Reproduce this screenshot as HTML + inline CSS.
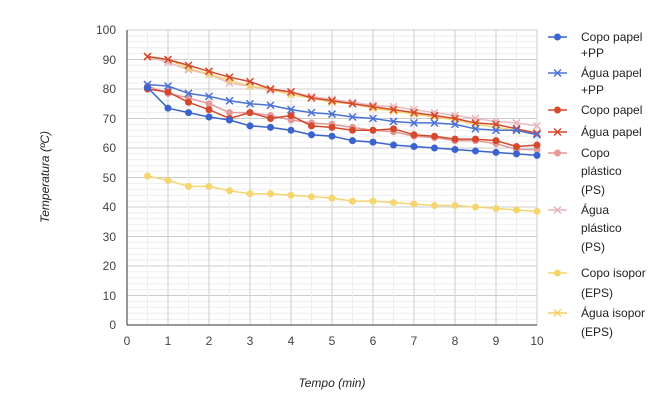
<!DOCTYPE html>
<html><head><meta charset="utf-8"><style>
body{margin:0;background:#fff;width:663px;height:400px;overflow:hidden;font-family:"Liberation Sans",Arial,sans-serif}
svg text{font-family:"Liberation Sans",Arial,sans-serif}
</style></head><body>
<svg id="s" width="663" height="400" xmlns="http://www.w3.org/2000/svg">
<rect width="663" height="400" fill="#fff"/>
<g id="grid"></g>
<g font-size="12" fill="#444" text-anchor="end">
<text x="116" y="34">100</text><text x="116" y="64">90</text><text x="116" y="93">80</text><text x="116" y="123">70</text><text x="116" y="152">60</text><text x="116" y="182">50</text><text x="116" y="211">40</text><text x="116" y="241">30</text><text x="116" y="270">20</text><text x="116" y="300">10</text><text x="116" y="329">0</text>
</g>
<g font-size="12" fill="#444" text-anchor="middle">
<text x="127" y="345">0</text><text x="168" y="345">1</text><text x="209" y="345">2</text><text x="250" y="345">3</text><text x="291" y="345">4</text><text x="332" y="345">5</text><text x="373" y="345">6</text><text x="414" y="345">7</text><text x="455" y="345">8</text><text x="496" y="345">9</text><text x="537" y="345">10</text>
</g>
<text x="332" y="387" font-size="12" font-style="italic" fill="#222" text-anchor="middle">Tempo (min)</text>
<text transform="translate(49,177) rotate(-90)" font-size="12" font-style="italic" fill="#222" text-anchor="middle">Temperatura (ºC)</text>
<g id="series"></g>
<g id="legend" font-size="12" fill="#222">
<text x="581" y="41">Copo papel</text><text x="581" y="57">+PP</text>
<text x="581" y="77">Água papel</text><text x="581" y="94">+PP</text>
<text x="581" y="114">Copo papel</text>
<text x="581" y="136">Água papel</text>
<text x="581" y="157">Copo</text><text x="581" y="175">plástico</text><text x="581" y="194">(PS)</text>
<text x="581" y="214">Água</text><text x="581" y="232">plástico</text><text x="581" y="251">(PS)</text>
<text x="581" y="277">Copo isopor</text><text x="581" y="297">(EPS)</text>
<text x="581" y="317">Água isopor</text><text x="581" y="336">(EPS)</text>
</g>
</svg>
<script>
var NS="http://www.w3.org/2000/svg";
function el(p,t,a){var e=document.createElementNS(NS,t);for(var k in a)e.setAttribute(k,a[k]);p.appendChild(e);return e;}
var X=function(v){return 127+v*41}, Y=function(v){return 325-v*2.95};
var g=document.getElementById('grid');
for(var v=0;v<=100;v+=2){el(g,'line',{x1:127,x2:537,y1:Y(v),y2:Y(v),stroke:v%10?'#eee':'#ccc','stroke-width':1});}
for(var x=0.5;x<=10;x+=0.5){el(g,'line',{x1:X(x),x2:X(x),y1:30,y2:325,stroke:x%1?'#eee':'#ccc','stroke-width':1});}
el(g,'line',{x1:127,x2:127,y1:30,y2:325,stroke:'#333','stroke-width':1});
el(g,'line',{x1:127,x2:537,y1:325,y2:325,stroke:'#333','stroke-width':1});
var S=[
['#e8b4bc','x',[91,89,86.5,85,82,81,79.5,79,77.5,76.5,75.5,74.5,74,73,72,71,70,69,68.5,67.5],0.9],
['#f3cf6a','x',[91,90,87,85,83,81,80,78,77,75.5,75,73.5,72.5,71.5,70.5,69.5,68,67,66,64.5],0.9],
['#d5482c','x',[91,90,88,86,84,82.5,80,79,77,76,75,74,73,72,71,70,68.5,68,66.5,65],1],
['#e39a98','o',[81,78.5,77,75,72,72,71,69.5,68.5,68,67,66,65.5,64,63.5,62.5,62.5,61.5,59.5,59.5],1],
['#d5482c','o',[80,79,75.5,73,70,72,70,71,67.5,67,66,66,66.5,64.5,64,63,63,62.5,60.5,61],1],
['#4a72d6','x',[81.5,81,78.5,77.5,76,75,74.5,73,72,71.5,70.5,70,69,68.5,68.5,68,66.5,66,66,64.5],1],
['#3a63d0','o',[80.5,73.5,72,70.5,69.5,67.5,67,66,64.5,64,62.5,62,61,60.5,60,59.5,59,58.5,58,57.5],1],
['#f5d56e','o',[50.5,49,47,47,45.5,44.5,44.5,44,43.5,43,42,42,41.5,41,40.5,40.5,40,39.5,39,38.5],1]];
var sg=document.getElementById('series');
function mark(p,c,m,x,y){if(m=='o')el(p,'circle',{cx:x,cy:y,r:3.5,fill:c});else{el(p,'path',{d:'M'+(x-3.5)+' '+(y-3.5)+'L'+(x+3.5)+' '+(y+3.5)+'M'+(x-3.5)+' '+(y+3.5)+'L'+(x+3.5)+' '+(y-3.5),stroke:c,'stroke-width':1.5});}}
S.forEach(function(s){var pts=s[2].map(function(v,i){return X(0.5+i*0.5)+','+Y(v)});
el(sg,'polyline',{points:pts.join(' '),fill:'none',stroke:s[0],'stroke-width':1.5,opacity:s[3]});
s[2].forEach(function(v,i){mark(sg,s[0],s[1],X(0.5+i*0.5),Y(v));});});
var L=[[37,'#3a63d0','o'],[73,'#4a72d6','x'],[110,'#d5482c','o'],[132,'#d5482c','x'],[153,'#e39a98','o'],[210,'#e8b4bc','x'],[273,'#f5d56e','o'],[313,'#f3cf6a','x']];
var lg=document.getElementById('legend');
L.forEach(function(l){el(lg,'line',{x1:548,x2:567,y1:l[0],y2:l[0],stroke:l[1],'stroke-width':1.5});mark(lg,l[1],l[2],557.5,l[0]);});
</script>
</body></html>
